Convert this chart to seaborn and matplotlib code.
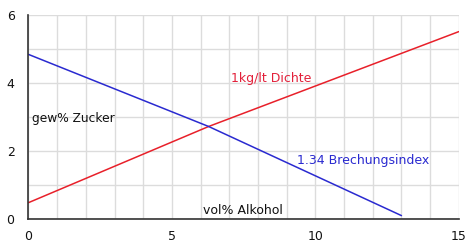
import matplotlib
matplotlib.use("Agg")
import matplotlib.pyplot as plt
import seaborn as sns
import pandas as pd

# values
alkohol_dichte = [0, 6.28, 15]
dichte = [0.48, 2.72, 5.51]
alkohol_brechung = [0, 6.28, 13]
brechung = [4.84, 2.72, 0.1]

sns.set_style("white")
plt.rcParams['font.family'] = ['DejaVu Sans']

fig = plt.figure(figsize=(4.74, 2.49), dpi=100)
ax = fig.add_axes([0.06, 0.1205, 0.908, 0.8195])

df_d = pd.DataFrame({'x': alkohol_dichte, 'y': dichte})
df_b = pd.DataFrame({'x': alkohol_brechung, 'y': brechung})
sns.lineplot(data=df_d, x='x', y='y', color='#e8202a', linewidth=1.1, ax=ax)
sns.lineplot(data=df_b, x='x', y='y', color='#2a2ad0', linewidth=1.1, ax=ax)

ax.set_xlim(0, 15)
ax.set_ylim(0, 6)
ax.set_xticks([0, 5, 10, 15])
ax.set_xticks(range(0, 16), minor=True)
ax.set_yticks([0, 2, 4, 6])
ax.set_yticks(range(0, 7), minor=True)
ax.grid(True, which='both', color='#dcdcdc', linewidth=1)
ax.set_axisbelow(True)
ax.set_xlabel('')
ax.set_ylabel('')
for s in ['top', 'right']:
    ax.spines[s].set_visible(False)
for s in ['left', 'bottom']:
    ax.spines[s].set_color('#333333')
    ax.spines[s].set_linewidth(1.2)
ax.tick_params(which='both', direction='out', length=4, width=1, color='#333333',
               labelsize=9, labelcolor='#111111')
ax.tick_params(axis='x', pad=4)
ax.tick_params(axis='y', pad=6)

ax.text(0.12, 2.95, 'gew% Zucker', fontsize=8.8, va='center', ha='left', color='#111111')
ax.text(7.05, 4.12, '1kg/lt Dichte', fontsize=9, va='center', ha='left', color='#e3203a')
ax.text(9.35, 1.72, '1.34 Brechungsindex', fontsize=9, va='center', ha='left', color='#2a2ad0')
ax.text(6.1, 0.24, 'vol% Alkohol', fontsize=9, va='center', ha='left', color='#111111')

fig.savefig('out.png', dpi=100)
